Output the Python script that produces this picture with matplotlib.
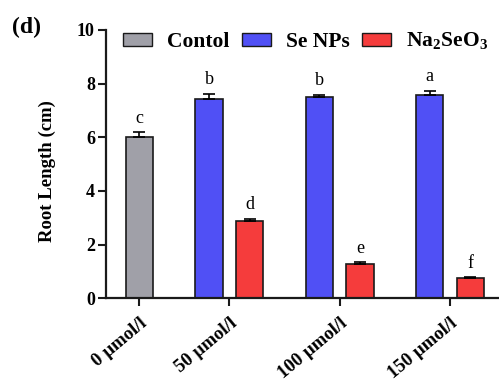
import numpy as np
import matplotlib
matplotlib.use('Agg')
import matplotlib.pyplot as plt
import matplotlib.transforms as mtransforms
from matplotlib.patches import Patch

# Root length by treatment and concentration
doses = ['0 µmol/l', '50 µmol/l', '100 µmol/l', '150 µmol/l']
control_mean = [6.0]
control_err = [0.18]
control_sig = ['c']
senp_mean = [7.42, 7.50, 7.58]
senp_err = [0.20, 0.08, 0.15]
senp_sig = ['b', 'b', 'a']
na_mean = [2.88, 1.29, 0.75]
na_err = [0.08, 0.05, 0.03]
na_sig = ['d', 'e', 'f']

plt.rcParams['font.family'] = ['Liberation Serif', 'DejaVu Serif']
plt.rcParams['font.weight'] = 'bold'
plt.rcParams['axes.labelweight'] = 'bold'
plt.rcParams['mathtext.fontset'] = 'custom'
plt.rcParams['mathtext.rm'] = 'Liberation Serif:bold'
plt.rcParams['mathtext.bf'] = 'Liberation Serif:bold'

fig = plt.figure(figsize=(4.99, 3.81), dpi=100)
ax = fig.add_axes([0.2124, 0.2170, 0.80, 0.7043])

centers = np.array([0.186, 1.0, 2.0, 3.0])
w = 0.248
off = 0.184
gray, blue, red = '#a0a0a8', '#5050f5', '#f53c3c'
ekw = dict(ecolor='black', elinewidth=1.2, capsize=4, capthick=1.2)

def draw(x, mean, err, color, sig):
    ax.bar(x, mean, w, color=color, edgecolor='#1a1a1a', linewidth=1.2, zorder=2)
    ax.errorbar(x, mean, yerr=[np.zeros(len(err)), err], fmt='none', zorder=3, **ekw)
    for xi, m, e, s in zip(x, mean, err, sig):
        ax.annotate(s, (xi, m + e), xytext=(0, 4), textcoords='offset points',
                    ha='center', va='bottom', fontsize=13, fontweight='normal')

draw(centers[:1], control_mean, control_err, gray, control_sig)
draw(centers[1:] - off, senp_mean, senp_err, blue, senp_sig)
draw(centers[1:] + off, na_mean, na_err, red, na_sig)

ax.set_xlim(-0.117, 3.5)
ax.set_ylim(0, 10)
ax.set_yticks([0, 2, 4, 6, 8, 10])
ax.set_xticks(centers)
ax.set_xticklabels(doses, rotation=40, ha='right', rotation_mode='anchor', fontsize=13.5)
shift = mtransforms.ScaledTranslation(8 / 100, 0, fig.dpi_scale_trans)
for lab in ax.get_xticklabels():
    lab.set_transform(lab.get_transform() + shift)
for lab in ax.get_yticklabels():
    lab.set_fontsize(13)
ax.tick_params(axis='both', width=1.5, length=6, color='#1a1a1a')
ax.tick_params(axis='x', pad=6)
ax.tick_params(axis='y', pad=2)
for side in ['top', 'right']:
    ax.spines[side].set_visible(False)
for side in ['left', 'bottom']:
    ax.spines[side].set_linewidth(1.6)
    ax.spines[side].set_color('#1a1a1a')

ax.set_ylabel('Root Length (cm)', fontsize=13.5)
ax.yaxis.set_label_coords(-0.125, 0.474)

handles = [Patch(facecolor=gray, edgecolor='#1a1a1a', linewidth=1.0),
           Patch(facecolor=blue, edgecolor='#1a1a1a', linewidth=1.0),
           Patch(facecolor=red, edgecolor='#1a1a1a', linewidth=1.0)]
ax.legend(handles, ['Contol', 'Se NPs', r'Na$_2$SeO$_3$'],
          loc='upper left', bbox_to_anchor=(0.01, 1.045), ncol=3, frameon=False,
          fontsize=15.5, handlelength=1.35, handleheight=0.55, handletextpad=0.72,
          columnspacing=0.55, borderaxespad=0.2)

fig.text(0.025, 0.955, '(d)', fontsize=17, fontweight='bold', va='top')

fig.savefig('out.png', dpi=100)
